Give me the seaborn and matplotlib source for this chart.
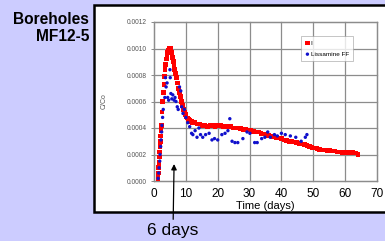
import matplotlib
matplotlib.use("Agg")
import matplotlib.pyplot as plt
from matplotlib.patches import Rectangle
import seaborn as sns
import pandas as pd

# Iodide (I) tracer breakthrough
i_days = [1.2, 1.3, 1.4, 1.5, 1.6, 1.7, 1.8, 1.9, 2.0, 2.1, 2.2, 2.3,
          2.5, 2.7, 2.9, 3.1, 3.3, 3.5, 3.7, 3.9, 4.1, 4.3, 4.5, 4.7, 4.9,
          5.1, 5.3, 5.5, 5.7, 5.9, 6.1, 6.3, 6.5,
          6.8, 7.1, 7.4, 7.7, 8.0, 8.3, 8.6, 8.9, 9.2, 9.5, 9.8,
          10.1, 10.5, 10.9, 11.3, 11.7,
          12.0, 12.8, 13.6, 14.4, 15.2, 16.0, 16.8, 17.6, 18.4, 19.2, 20.0,
          20.8, 21.6, 22.4, 23.2, 24.0, 24.8, 25.6, 26.4, 27.2, 28.0, 28.8,
          29.6, 30.4, 31.2, 32.0, 32.8, 33.6, 34.4, 35.2, 36.0, 36.8, 37.6,
          38.4, 39.2, 40.0, 40.8, 41.6, 42.4, 43.2, 44.0, 44.8, 45.6, 46.4,
          47.2, 48.0, 48.8, 49.6, 50.4, 51.2, 52.0, 52.8, 53.6, 54.4, 55.2,
          56.0, 56.8, 57.6, 58.4, 59.2, 60.0, 60.8, 61.6, 62.4, 63.2, 64.0]
i_conc = [0.0, 0.3e-4, 0.6e-4, 1.0e-4, 1.4e-4, 1.8e-4, 2.2e-4, 2.6e-4, 3.0e-4, 3.4e-4, 3.8e-4, 4.2e-4,
          5.2e-4, 6.0e-4, 6.7e-4, 7.3e-4, 7.9e-4, 8.4e-4, 8.8e-4, 9.2e-4, 9.5e-4, 9.7e-4, 9.85e-4, 9.95e-4, 10.0e-4,
          10.0e-4, 9.9e-4, 9.7e-4, 9.5e-4, 9.3e-4, 9.0e-4, 8.7e-4, 8.4e-4,
          8.1e-4, 7.8e-4, 7.4e-4, 7.0e-4, 6.7e-4, 6.4e-4, 6.0e-4, 5.7e-4, 5.4e-4, 5.2e-4, 5.0e-4,
          4.85e-4, 4.75e-4, 4.65e-4, 4.55e-4, 4.5e-4,
          4.4e-4, 4.4e-4, 4.3e-4, 4.3e-4, 4.2e-4, 4.2e-4, 4.1e-4, 4.2e-4, 4.2e-4, 4.1e-4, 4.2e-4,
          4.2e-4, 4.1e-4, 4.1e-4, 4.1e-4, 4.1e-4, 4.0e-4, 4.0e-4, 4.0e-4, 3.95e-4, 3.9e-4, 3.9e-4,
          3.85e-4, 3.8e-4, 3.75e-4, 3.7e-4, 3.7e-4, 3.6e-4, 3.55e-4, 3.5e-4, 3.45e-4, 3.4e-4, 3.35e-4,
          3.3e-4, 3.25e-4, 3.2e-4, 3.1e-4, 3.05e-4, 3.0e-4, 3.0e-4, 2.95e-4, 2.9e-4, 2.85e-4, 2.8e-4,
          2.75e-4, 2.7e-4, 2.6e-4, 2.55e-4, 2.5e-4, 2.45e-4, 2.4e-4, 2.35e-4, 2.35e-4, 2.3e-4, 2.3e-4,
          2.25e-4, 2.25e-4, 2.2e-4, 2.2e-4, 2.15e-4, 2.1e-4, 2.15e-4, 2.2e-4, 2.15e-4, 2.1e-4, 2.0e-4]

# Lissamine FF dye
lis_days = [1.3, 1.5, 1.6, 1.8, 1.9, 2.1, 2.2, 2.4, 2.5, 2.7, 2.9,
            3.4, 3.6, 3.8, 4.1, 4.3, 4.6, 5.0, 5.1, 5.3, 5.6, 5.9, 6.3, 6.6, 6.9,
            7.3, 7.6, 8.0, 8.4, 8.7, 9.1, 9.5, 10.0, 10.6, 11.2, 11.8, 12.2, 12.9,
            13.5, 14.1, 14.6, 15.3, 16.2, 17.3, 18.2, 19.0, 20.0, 21.3, 22.3, 23.2,
            23.8, 24.5, 25.4, 26.3, 27.9, 29.2, 30.1, 31.6, 32.4, 33.8, 34.8, 35.7,
            36.5, 37.8, 38.7, 40.0, 41.2, 42.8, 44.5, 46.2, 47.5, 48.0]
lis_conc = [0.2e-4, 0.6e-4, 1.0e-4, 1.5e-4, 2.0e-4, 2.6e-4, 3.1e-4, 3.7e-4, 4.2e-4, 4.8e-4, 5.4e-4,
            6.3e-4, 7.8e-4, 7.1e-4, 7.4e-4, 6.3e-4, 6.1e-4, 8.4e-4, 7.8e-4, 6.6e-4, 6.2e-4, 6.5e-4, 6.1e-4, 6.3e-4, 6.0e-4,
            5.6e-4, 5.4e-4, 7.1e-4, 6.8e-4, 5.6e-4, 5.1e-4, 5.4e-4, 4.8e-4, 4.4e-4, 4.1e-4, 3.6e-4, 3.5e-4, 3.8e-4,
            3.3e-4, 4.0e-4, 3.5e-4, 3.3e-4, 3.5e-4, 3.6e-4, 3.1e-4, 3.2e-4, 3.1e-4, 3.5e-4, 3.6e-4, 3.8e-4,
            4.7e-4, 3.0e-4, 2.9e-4, 2.9e-4, 3.2e-4, 3.7e-4, 3.6e-4, 2.9e-4, 2.9e-4, 3.2e-4, 3.3e-4, 3.7e-4,
            3.3e-4, 3.5e-4, 3.4e-4, 3.6e-4, 3.5e-4, 3.4e-4, 3.3e-4, 3.0e-4, 3.3e-4, 3.5e-4]

x_ticks = [0, 10, 20, 30, 40, 50, 60, 70]
y_ticks = [0.0, 0.0002, 0.0004, 0.0006, 0.0008, 0.0010, 0.0012]

plt.rcParams["font.family"] = ["Liberation Sans", "DejaVu Sans"]

df_i = pd.DataFrame({"days": i_days, "conc": i_conc})
df_lis = pd.DataFrame({"days": lis_days, "conc": lis_conc})

W, H = 385, 241
fig = plt.figure(figsize=(W / 100, H / 100), dpi=100, facecolor="#ccccff")

# white framed panel that runs off the right edge
fig.patches.append(Rectangle((94 / W, 1 - 212 / H), 1.0, 207 / H,
                             transform=fig.transFigure, facecolor="white",
                             edgecolor="black", lw=1.8, zorder=-10))

ax = fig.add_axes([154 / W, 1 - 181 / H, 223 / W, 159 / H])
ax.set_zorder(2)
ax.set_facecolor("white")

# grid drawn at the tick positions, under the markers
grid_kw = dict(color="#8c8c8c", lw=0.9, zorder=1, clip_on=False)
for xt in x_ticks:
    ax.axvline(xt, **grid_kw)
for yt in y_ticks:
    ax.axhline(yt, **grid_kw)

sns.scatterplot(data=df_i, x="days", y="conc", ax=ax, marker="s", s=11,
                color="#ff0000", edgecolor="none", label="I", zorder=3)
sns.scatterplot(data=df_lis, x="days", y="conc", ax=ax, marker="o", s=6,
                color="#1010cc", edgecolor="none", label="Lissamine FF", zorder=4)

ax.set_xlim(0, 70)
ax.set_ylim(0, 0.0012)
ax.set_xticks(x_ticks)
ax.set_yticks(y_ticks)
ax.set_xticklabels([str(t) for t in x_ticks], fontsize=8.5, color="black")
ax.set_yticklabels([f"{t:.4f}" for t in y_ticks], fontsize=4.8, color="#555555")
ax.tick_params(axis="x", length=0, pad=5)
ax.tick_params(axis="y", length=2, width=0.6, color="#777777", pad=3)
for sp in ax.spines.values():
    sp.set_color("#8c8c8c")
    sp.set_linewidth(0.9)

ax.set_xlabel("Time (days)", fontsize=8, labelpad=1)
ax.set_ylabel("C/Co", fontsize=5, color="#555555", labelpad=14)

leg = ax.legend(loc="upper left", bbox_to_anchor=(0.645, 0.93), fontsize=4.6,
                frameon=True, fancybox=False, edgecolor="#999999",
                handletextpad=0.1, borderpad=0.6, labelspacing=0.9,
                handlelength=0.8, markerscale=1.0)
leg.get_frame().set_linewidth(0.5)
leg.set_zorder(6)

fig.text(89 / W, 1 - 12 / H, "Boreholes\nMF12-5", ha="right", va="top",
         fontsize=11.2, fontweight="bold", linespacing=1.15)

ax.annotate("6 days", xy=(6.3, 0.000128), xytext=(173, H - 231),
            textcoords="figure pixels", ha="center", va="center", fontsize=12.5,
            annotation_clip=False,
            arrowprops=dict(arrowstyle="-|>", color="black", lw=0.9,
                            mutation_scale=8, shrinkA=1, shrinkB=0))

fig.savefig("out.png", dpi=100, facecolor=fig.get_facecolor())
